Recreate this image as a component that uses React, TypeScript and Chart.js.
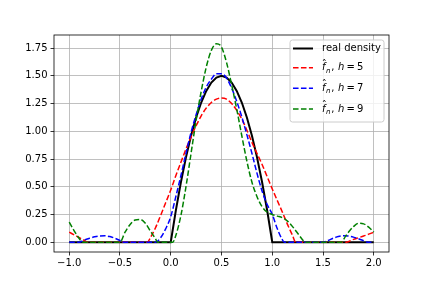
import React, { useEffect, useRef } from "react";
import { Chart, registerables } from "chart.js";
Chart.register(...registerables);

const xTicks = [-1, -0.5, 0, 0.5, 1, 1.5, 2];
const yTicks = [0, 0.25, 0.5, 0.75, 1, 1.25, 1.5, 1.75];

const realX = [-1, 0, 0.05, 0.1, 0.15, 0.2, 0.25, 0.3, 0.35, 0.4, 0.45, 0.5, 0.55, 0.6, 0.65, 0.7, 0.75, 0.8, 0.85, 0.9, 0.95, 1, 2];
const realY = [0, 0, 0.285, 0.54, 0.765, 0.96, 1.125, 1.26, 1.365, 1.44, 1.485, 1.5, 1.485, 1.44, 1.365, 1.26, 1.125, 0.96, 0.765, 0.54, 0.285, 0, 0];

const h5X = [-1, -0.95, -0.9, -0.85, -0.82, -0.23, -0.2, -0.15, -0.1, -0.05, 0, 0.05, 0.1, 0.15, 0.2, 0.25, 0.3, 0.35, 0.4, 0.45, 0.5, 0.55, 0.6, 0.65, 0.7, 0.75, 0.8, 0.85, 0.9, 0.95, 1.0, 1.05, 1.1, 1.15, 1.2, 1.23, 1.73, 1.8, 1.85, 1.9, 1.95, 2.0];
const h5Y = [0.09, 0.065, 0.04, 0.015, 0, 0, 0.04, 0.13, 0.24, 0.355, 0.47, 0.6, 0.72, 0.84, 0.95, 1.05, 1.14, 1.21, 1.26, 1.29, 1.3, 1.29, 1.25, 1.19, 1.11, 1.01, 0.9, 0.8, 0.7, 0.59, 0.48, 0.375, 0.27, 0.16, 0.06, 0, 0, 0.025, 0.04, 0.055, 0.072, 0.09];

const h7X = [-1, -0.9, -0.85, -0.8, -0.75, -0.7, -0.65, -0.6, -0.55, -0.5, -0.47, -0.15, -0.1, -0.05, 0, 0.05, 0.1, 0.15, 0.2, 0.25, 0.3, 0.35, 0.4, 0.45, 0.5, 0.55, 0.6, 0.65, 0.7, 0.75, 0.8, 0.85, 0.9, 0.95, 1.0, 1.05, 1.1, 1.12, 1.5, 1.55, 1.6, 1.65, 1.7, 1.75, 1.8, 1.85, 1.9, 1.94, 2.0];
const h7Y = [0, 0, 0.02, 0.035, 0.048, 0.056, 0.057, 0.05, 0.035, 0.015, 0, 0, 0.04, 0.12, 0.23, 0.41, 0.6, 0.8, 0.99, 1.15, 1.29, 1.4, 1.47, 1.52, 1.52, 1.48, 1.39, 1.27, 1.13, 0.97, 0.8, 0.62, 0.46, 0.34, 0.25, 0.12, 0.02, 0, 0, 0.015, 0.035, 0.05, 0.057, 0.055, 0.045, 0.03, 0.012, 0, 0];

const h9X = [-1, -0.95, -0.9, -0.87, -0.5, -0.45, -0.4, -0.35, -0.3, -0.25, -0.2, -0.15, -0.13, 0.02, 0.05, 0.1, 0.15, 0.2, 0.25, 0.3, 0.35, 0.4, 0.45, 0.5, 0.55, 0.6, 0.65, 0.7, 0.75, 0.8, 0.85, 0.9, 0.95, 1.0, 1.05, 1.1, 1.15, 1.2, 1.25, 1.3, 1.32, 1.68, 1.72, 1.76, 1.8, 1.85, 1.9, 1.95, 2.0];
const h9Y = [0.18, 0.1, 0.03, 0, 0, 0.09, 0.16, 0.2, 0.205, 0.17, 0.1, 0.03, 0, 0, 0.06, 0.24, 0.5, 0.8, 1.1, 1.36, 1.58, 1.73, 1.79, 1.76, 1.62, 1.42, 1.2, 0.96, 0.73, 0.54, 0.41, 0.32, 0.27, 0.25, 0.235, 0.22, 0.19, 0.14, 0.08, 0.02, 0, 0, 0.05, 0.1, 0.14, 0.17, 0.165, 0.135, 0.09];

const hValues = [5, 7, 9];
const colors = ["#000000", "#ff0000", "#0000ff", "#008000"];
const dash = [5.55, 2.4];

const zip = (xs: number[], ys: number[]) => xs.map((x, i) => ({ x, y: ys[i] }));
const FONT = '"DejaVu Sans", sans-serif';

function drawMathLabel(ctx: CanvasRenderingContext2D, x: number, y: number, h: number) {
  ctx.fillStyle = "#000";
  ctx.textAlign = "left";
  ctx.textBaseline = "alphabetic";
  let cx = x;
  ctx.font = `italic 10px ${FONT}`;
  ctx.fillText("f", cx, y);
  const wf = ctx.measureText("f").width;
  ctx.font = `10px ${FONT}`;
  const hw = ctx.measureText("\u02C6").width;
  ctx.fillText("\u02C6", cx + wf / 2 + 0.6 - hw / 2, y - 2.5);
  cx += wf + 0.6;
  ctx.font = `italic 7px ${FONT}`;
  ctx.fillText("n", cx, y + 2.5);
  cx += ctx.measureText("n").width + 0.6;
  ctx.font = `10px ${FONT}`;
  ctx.fillText(",", cx, y);
  cx += ctx.measureText(",").width + 3.6;
  ctx.font = `italic 10px ${FONT}`;
  ctx.fillText("h", cx, y);
  cx += ctx.measureText("h").width + 2.2;
  ctx.font = `10px ${FONT}`;
  ctx.fillText("=", cx, y);
  cx += ctx.measureText("=").width + 2.2;
  ctx.fillText(String(h), cx, y);
}

const framePlugin = {
  id: "mplFrame",
  afterDatasetsDraw(chart: any) {
    const { ctx, chartArea: a } = chart;
    ctx.save();
    ctx.strokeStyle = "#000";
    ctx.lineWidth = 0.8;
    ctx.strokeRect(a.left, a.top, a.right - a.left, a.bottom - a.top);
    ctx.restore();
  },
};

const legendPlugin = {
  id: "mplLegend",
  afterDraw(chart: any) {
    const { ctx, chartArea: a } = chart;
    const bw = 94;
    const bh = 82;
    const bx = a.right - 5 - bw;
    const by = a.top + 5;
    ctx.save();
    ctx.beginPath();
    const r = 2.5;
    ctx.moveTo(bx + r, by);
    ctx.lineTo(bx + bw - r, by);
    ctx.arcTo(bx + bw, by, bx + bw, by + r, r);
    ctx.lineTo(bx + bw, by + bh - r);
    ctx.arcTo(bx + bw, by + bh, bx + bw - r, by + bh, r);
    ctx.lineTo(bx + r, by + bh);
    ctx.arcTo(bx, by + bh, bx, by + bh - r, r);
    ctx.lineTo(bx, by + r);
    ctx.arcTo(bx, by, bx + r, by, r);
    ctx.closePath();
    ctx.fillStyle = "rgba(255,255,255,0.8)";
    ctx.fill();
    ctx.strokeStyle = "#cccccc";
    ctx.lineWidth = 1;
    ctx.stroke();

    const rows = [8.5, 27.7, 48.3, 69];
    const hx0 = bx + 3;
    const hx1 = bx + 23;
    const tx = bx + 32;
    rows.forEach((ry, i) => {
      const cy = by + ry;
      ctx.beginPath();
      ctx.strokeStyle = colors[i];
      ctx.lineWidth = i === 0 ? 2 : 1.5;
      ctx.setLineDash(i === 0 ? [] : dash);
      ctx.moveTo(hx0, cy);
      ctx.lineTo(hx1, cy);
      ctx.stroke();
      ctx.setLineDash([]);
      if (i === 0) {
        ctx.font = `10px ${FONT}`;
        ctx.fillStyle = "#000";
        ctx.textAlign = "left";
        ctx.textBaseline = "middle";
        ctx.fillText("real density", tx, cy);
      } else {
        drawMathLabel(ctx, tx, cy + 2.6, hValues[i - 1]);
      }
    });
    ctx.restore();
  },
};

export default function App() {
  const ref = useRef<HTMLCanvasElement | null>(null);
  useEffect(() => {
    document.body.style.margin = "0";
    const canvas = ref.current!;
    const mk = (label: string, xs: number[], ys: number[], i: number, order: number) => ({
      label,
      data: zip(xs, ys),
      borderColor: colors[i],
      backgroundColor: colors[i],
      borderWidth: i === 0 ? 2 : 1.5,
      borderDash: i === 0 ? [] : dash,
      pointRadius: 0,
      tension: i === 0 ? 0 : 0.4,
      cubicInterpolationMode: i === 0 ? "default" : "monotone",
      fill: false,
      order,
    });
    const chart = new Chart(canvas, {
      type: "line",
      data: {
        datasets: [
          mk("real density", realX, realY, 0, 3),
          mk("h = 5", h5X, h5Y, 1, 2),
          mk("h = 7", h7X, h7Y, 2, 1),
          mk("h = 9", h9X, h9Y, 3, 0),
        ] as any,
      },
      options: {
        animation: false,
        responsive: false,
        devicePixelRatio: 1,
        parsing: true,
        layout: { padding: { left: 0, top: 35, right: 43, bottom: 0 } },
        plugins: { legend: { display: false }, tooltip: { enabled: false } },
        scales: {
          x: {
            type: "linear",
            min: -1.15,
            max: 2.15,
            afterBuildTicks: (s: any) => {
              s.ticks = xTicks.map((v) => ({ value: v }));
            },
            afterFit: (s: any) => {
              s.height = 36;
            },
            ticks: {
              color: "#000",
              font: { family: FONT, size: 10 },
              padding: 2,
              maxRotation: 0,
              callback: (v: any) => Number(v).toFixed(1).replace("-", "\u2212"),
            },
            grid: { color: "#b0b0b0", lineWidth: 0.8, tickColor: "#000", tickLength: 3.5, tickWidth: 0.8 },
            border: { display: false },
          },
          y: {
            type: "linear",
            min: -0.089,
            max: 1.869,
            afterBuildTicks: (s: any) => {
              s.ticks = yTicks.map((v) => ({ value: v }));
            },
            afterFit: (s: any) => {
              s.width = 54;
            },
            ticks: {
              color: "#000",
              font: { family: FONT, size: 10 },
              padding: 3,
              callback: (v: any) => Number(v).toFixed(2),
            },
            grid: { color: "#b0b0b0", lineWidth: 0.8, tickColor: "#000", tickLength: 3.5, tickWidth: 0.8 },
            border: { display: false },
          },
        },
      },
      plugins: [framePlugin, legendPlugin],
    });
    return () => chart.destroy();
  }, []);
  return (
    <div style={{ width: 432, height: 288 }}>
      <canvas ref={ref} width={432} height={288} style={{ display: "block" }} />
    </div>
  );
}
